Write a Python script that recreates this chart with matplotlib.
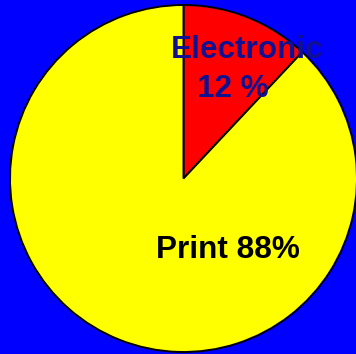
import matplotlib.pyplot as plt

# data
categories = ['Electronic', 'Print']
shares = [12, 88]
label_lines = ['Electronic', '12 %', 'Print 88%']
slice_colors = ['#ff0000', '#ffff00']

W, H = 356, 354
fig = plt.figure(figsize=(W / 100, H / 100), dpi=100)
fig.patch.set_facecolor('#0000ff')
ax = fig.add_axes([0, 0, 1, 1])

cx, cy, r = 183.5, H - 178.5, 173.5
ax.pie(shares, colors=slice_colors, startangle=90, counterclock=False,
       center=(cx, cy), radius=r, frame=True,
       wedgeprops=dict(edgecolor='black', linewidth=1.4))
ax.set_xlim(0, W)
ax.set_ylim(0, H)
ax.set_aspect('equal')
ax.axis('off')

font = dict(fontsize=22.7, fontweight='bold', family='Liberation Sans',
            ha='center', va='baseline')
ax.text(247, H - 58, label_lines[0], color='#101090', **font)
ax.text(232.5, H - 97, label_lines[1], color='#101090', **font)
ax.text(228, H - 258, label_lines[2], color='black', **font)

fig.savefig('out.png', dpi=100, facecolor=fig.get_facecolor())
